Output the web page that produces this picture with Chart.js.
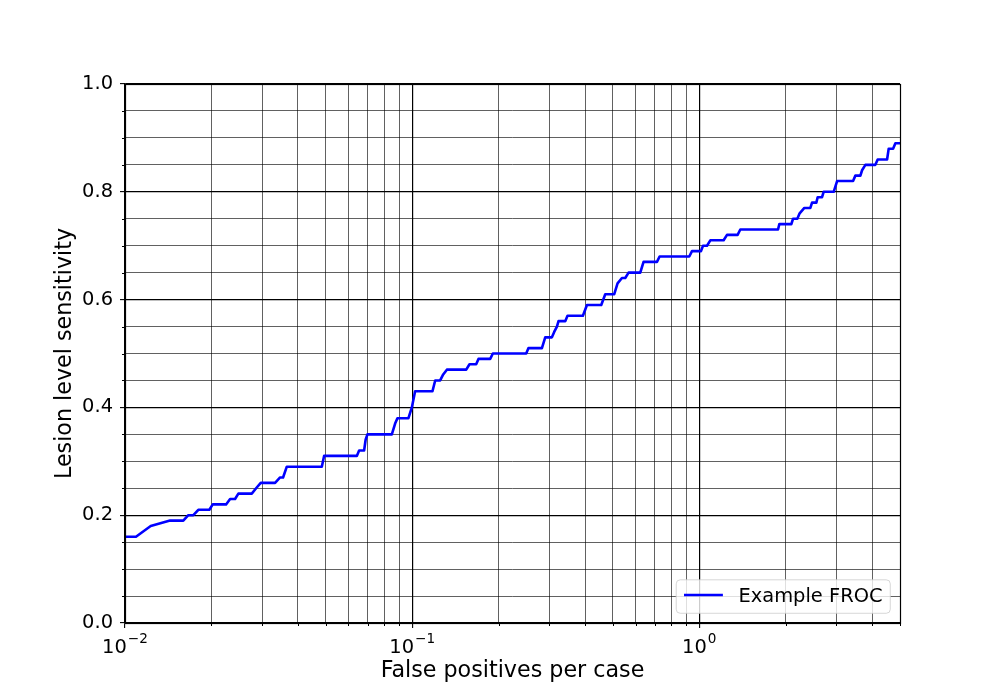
<!DOCTYPE html>
<html>
<head>
<meta charset="utf-8">
<script src="https://cdn.jsdelivr.net/npm/chart.js@4"></script>
<style>
  html, body { margin: 0; padding: 0; background: #ffffff; }
  canvas { display: block; }
</style>
</head>
<body>
<canvas id="chart" width="1000" height="700"></canvas>
<script>
// ---------------- data ----------------
const seriesLabel = 'Example FROC';
const fpPerCase = [
  0.01, 0.01092, 0.01229, 0.01435, 0.01596, 0.01662, 0.0173, 0.0180, 0.01967, 0.02021,
  0.02249, 0.02323, 0.02417, 0.02482, 0.02764, 0.02861, 0.0297, 0.03332, 0.03468, 0.03552,
  0.0366, 0.04846, 0.04936, 0.06417, 0.06536, 0.06804, 0.06886, 0.06986, 0.08497, 0.08724,
  0.08886, 0.09708, 0.09976, 0.1024, 0.1177, 0.1203, 0.1252, 0.1279, 0.1321, 0.1543,
  0.1584, 0.1671, 0.1702, 0.187, 0.191, 0.2496, 0.2542, 0.2831, 0.2907, 0.3067,
  0.3124, 0.3193, 0.3234, 0.3413, 0.3476, 0.3933, 0.4062, 0.4556, 0.4704, 0.5056,
  0.5192, 0.5378, 0.5523, 0.5672, 0.6229, 0.6396, 0.7122, 0.7274, 0.9229, 0.9431,
  1.0137, 1.0301, 1.0637, 1.0923, 1.2155, 1.2489, 1.3596, 1.3895, 1.8802, 1.9,
  2.0921, 2.1206, 2.1952, 2.2359, 2.3225, 2.4365, 2.4699, 2.5566, 2.5835, 2.6762,
  2.7108, 2.938, 3.0193, 3.4321, 3.4959, 3.6395, 3.6891, 3.7881, 4.1045, 4.1806,
  4.5082, 4.5668, 4.7304, 4.8183, 5.0
];
const sensitivity = [
  0.16, 0.16, 0.18, 0.19, 0.19, 0.20, 0.20, 0.21, 0.21, 0.22,
  0.22, 0.23, 0.23, 0.24, 0.24, 0.25, 0.26, 0.26, 0.27, 0.27,
  0.29, 0.29, 0.31, 0.31, 0.32, 0.32, 0.34, 0.35, 0.35, 0.37,
  0.38, 0.38, 0.40, 0.43, 0.43, 0.45, 0.45, 0.46, 0.47, 0.47,
  0.48, 0.48, 0.49, 0.49, 0.50, 0.50, 0.51, 0.51, 0.53, 0.53,
  0.54, 0.55, 0.56, 0.56, 0.57, 0.57, 0.59, 0.59, 0.61, 0.61,
  0.63, 0.64, 0.64, 0.65, 0.65, 0.67, 0.67, 0.68, 0.68, 0.69,
  0.69, 0.70, 0.70, 0.71, 0.71, 0.72, 0.72, 0.73, 0.73, 0.74,
  0.74, 0.75, 0.75, 0.76, 0.77, 0.77, 0.78, 0.78, 0.79, 0.79,
  0.80, 0.80, 0.82, 0.82, 0.83, 0.83, 0.84, 0.85, 0.85, 0.86,
  0.86, 0.88, 0.88, 0.89, 0.89
];
const xMajorTicks = [0.01, 0.1, 1];
const xTickBase = '10';
const xTickExponents = ['\u22122', '\u22121', '0'];
const yMajorTicks = [0.0, 0.2, 0.4, 0.6, 0.8, 1.0];
const yTickLabels = ['0.0', '0.2', '0.4', '0.6', '0.8', '1.0'];
const xAxisTitle = 'False positives per case';
const yAxisTitle = 'Lesion level sensitivity';
const xRange = [0.01, 5];
const yRange = [0, 1];
const yMinorStep = 0.05;

// ---------------- helpers ----------------
const FONT = 'DejaVu Sans';
const TICK_FS = 19.44;
const near = (a, b) => Math.abs(a - b) <= 1e-9 * Math.max(1, Math.abs(b));
const majorIndex = (list, v) => list.findIndex(m => near(m, v));

function buildLogTicks(min, max) {
  const out = [];
  const e0 = Math.floor(Math.log10(min)), e1 = Math.ceil(Math.log10(max));
  for (let e = e0; e <= e1; e++) {
    for (let m = 1; m <= 9; m++) {
      const v = Number((m * Math.pow(10, e)).toPrecision(8));
      if (v >= min - 1e-12 && v <= max + 1e-12) out.push(v);
    }
  }
  return out;
}
function buildLinTicks(min, max, step) {
  const out = [];
  const n = Math.round((max - min) / step);
  for (let i = 0; i <= n; i++) out.push(Number((min + i * step).toFixed(6)));
  return out;
}
const xTickValues = buildLogTicks(xRange[0], xRange[1]);
const yTickValues = buildLinTicks(yRange[0], yRange[1], yMinorStep);

const MAJOR_GRID = '#000000';
const MINOR_GRID = 'rgba(0,0,0,0.78)';

// minor tick marks, spines frame, x tick labels with superscripts, legend
const decorPlugin = {
  id: 'decor',
  afterDatasetsDraw(chart) {
    const { ctx, chartArea: a, scales } = chart;
    ctx.save();
    ctx.strokeStyle = '#000';
    ctx.lineWidth = 1;
    xTickValues.forEach(v => {
      if (majorIndex(xMajorTicks, v) >= 0) return;
      const px = Math.round(scales.x.getPixelForValue(v)) + 0.5;
      ctx.beginPath(); ctx.moveTo(px, a.bottom); ctx.lineTo(px, a.bottom + 3); ctx.stroke();
    });
    yTickValues.forEach(v => {
      if (majorIndex(yMajorTicks, v) >= 0) return;
      const py = Math.round(scales.y.getPixelForValue(v)) + 0.5;
      ctx.beginPath(); ctx.moveTo(a.left - 3, py); ctx.lineTo(a.left, py); ctx.stroke();
    });
    ctx.lineWidth = 1.2;
    ctx.strokeRect(Math.round(a.left) + 0.5, Math.round(a.top) + 0.5,
                   Math.round(a.right) - Math.round(a.left), Math.round(a.bottom) - Math.round(a.top));
    ctx.restore();
  },
  afterDraw(chart) {
    const { ctx, chartArea: a, scales } = chart;
    ctx.save();
    // x tick labels: base + superscript exponent (mathtext style)
    const baseFont = TICK_FS + 'px "' + FONT + '"';
    const expFs = TICK_FS * 0.7;
    const expFont = expFs + 'px "' + FONT + '"';
    ctx.fillStyle = '#000';
    ctx.textBaseline = 'alphabetic';
    ctx.textAlign = 'left';
    const baseY = a.bottom + 29.5;
    xMajorTicks.forEach((v, i) => {
      ctx.font = baseFont;
      const bw = ctx.measureText(xTickBase).width;
      ctx.font = expFont;
      const ew = ctx.measureText(xTickExponents[i]).width;
      const gap = 1;
      const total = bw + gap + ew;
      const cx = scales.x.getPixelForValue(v);
      const x0 = cx - total / 2;
      ctx.font = baseFont;
      ctx.fillText(xTickBase, x0, baseY);
      ctx.font = expFont;
      ctx.fillText(xTickExponents[i], x0 + bw + gap, baseY - 9.3);
    });

    // legend
    const ds = chart.data.datasets[0];
    const fs = TICK_FS;
    ctx.font = fs + 'px "' + FONT + '"';
    const tw = ctx.measureText(ds.label).width;
    const pad = 0.4 * fs, handleLen = 2.0 * fs, handleGap = 0.8 * fs, axPad = 0.5 * fs;
    const bw = pad + handleLen + handleGap + tw + pad;
    const bh = 2 * pad + 0.92 * fs;
    const bx = a.right - axPad - bw;
    const by = a.bottom - axPad - bh;
    const r = 4;
    ctx.beginPath();
    ctx.moveTo(bx + r, by);
    ctx.lineTo(bx + bw - r, by); ctx.quadraticCurveTo(bx + bw, by, bx + bw, by + r);
    ctx.lineTo(bx + bw, by + bh - r); ctx.quadraticCurveTo(bx + bw, by + bh, bx + bw - r, by + bh);
    ctx.lineTo(bx + r, by + bh); ctx.quadraticCurveTo(bx, by + bh, bx, by + bh - r);
    ctx.lineTo(bx, by + r); ctx.quadraticCurveTo(bx, by, bx + r, by);
    ctx.closePath();
    ctx.fillStyle = 'rgba(255,255,255,0.8)';
    ctx.fill();
    ctx.strokeStyle = 'rgba(204,204,204,0.8)';
    ctx.lineWidth = 1;
    ctx.stroke();
    const ly = by + bh - 18.3;
    ctx.strokeStyle = ds.borderColor;
    ctx.lineWidth = ds.borderWidth;
    ctx.beginPath(); ctx.moveTo(bx + pad, ly); ctx.lineTo(bx + pad + handleLen, ly); ctx.stroke();
    ctx.fillStyle = '#000';
    ctx.fillText(ds.label, bx + pad + handleLen + handleGap, by + bh - 11);
    ctx.restore();
  }
};

Chart.defaults.font.family = FONT;
Chart.defaults.color = '#000';

new Chart(document.getElementById('chart').getContext('2d'), {
  type: 'scatter',
  data: {
    datasets: [{
      label: seriesLabel,
      data: fpPerCase.map((x, i) => ({ x: x, y: sensitivity[i] })),
      showLine: true,
      borderColor: '#0000ff',
      backgroundColor: '#0000ff',
      borderWidth: 2.6,
      pointRadius: 0,
      pointHoverRadius: 0,
      tension: 0,
      fill: false,
      borderJoinStyle: 'round',
      borderCapStyle: 'butt'
    }]
  },
  options: {
    responsive: false,
    animation: false,
    devicePixelRatio: 1,
    events: [],
    layout: { padding: { top: 84, right: 100, left: 0, bottom: 0 } },
    plugins: { legend: { display: false }, tooltip: { enabled: false } },
    scales: {
      x: {
        type: 'logarithmic',
        position: 'bottom',
        min: xRange[0],
        max: xRange[1],
        afterBuildTicks: s => { s.ticks = xTickValues.map(v => ({ value: v })); },
        afterFit: s => { s.height = 77; },
        ticks: {
          display: false, autoSkip: false, maxRotation: 0, minRotation: 0,
          font: { size: TICK_FS, family: FONT }, color: '#000'
        },
        grid: {
          color: c => (c.tick && majorIndex(xMajorTicks, c.tick.value) >= 0) ? MAJOR_GRID : MINOR_GRID,
          lineWidth: c => (c.tick && majorIndex(xMajorTicks, c.tick.value) >= 0) ? 1.2 : 0.8,
          drawTicks: true, tickLength: 5, tickWidth: 1.1,
          tickColor: c => (c.tick && majorIndex(xMajorTicks, c.tick.value) >= 0) ? '#000' : 'rgba(0,0,0,0)'
        },
        border: { display: true, color: '#000', width: 1.2 },
        title: { display: true, text: xAxisTitle, color: '#000',
                 font: { size: 22.22, family: FONT }, padding: { top: 0, bottom: 15 } }
      },
      y: {
        type: 'linear',
        position: 'left',
        min: yRange[0],
        max: yRange[1],
        afterBuildTicks: s => { s.ticks = yTickValues.map(v => ({ value: v })); },
        afterFit: s => { s.width = 125; },
        ticks: {
          autoSkip: false, padding: 7,
          font: { size: TICK_FS, family: FONT }, color: '#000',
          callback: v => { const i = majorIndex(yMajorTicks, v); return i >= 0 ? yTickLabels[i] : ''; }
        },
        grid: {
          color: c => (c.tick && majorIndex(yMajorTicks, c.tick.value) >= 0) ? MAJOR_GRID : MINOR_GRID,
          lineWidth: c => (c.tick && majorIndex(yMajorTicks, c.tick.value) >= 0) ? 1.2 : 0.8,
          drawTicks: true, tickLength: 5, tickWidth: 1.1,
          tickColor: c => (c.tick && majorIndex(yMajorTicks, c.tick.value) >= 0) ? '#000' : 'rgba(0,0,0,0)'
        },
        border: { display: true, color: '#000', width: 1.2 },
        title: { display: true, text: yAxisTitle, color: '#000',
                 font: { size: 22.22, family: FONT }, padding: { top: 52, bottom: 0 } }
      }
    }
  },
  plugins: [decorPlugin]
});
</script>
</body>
</html>
